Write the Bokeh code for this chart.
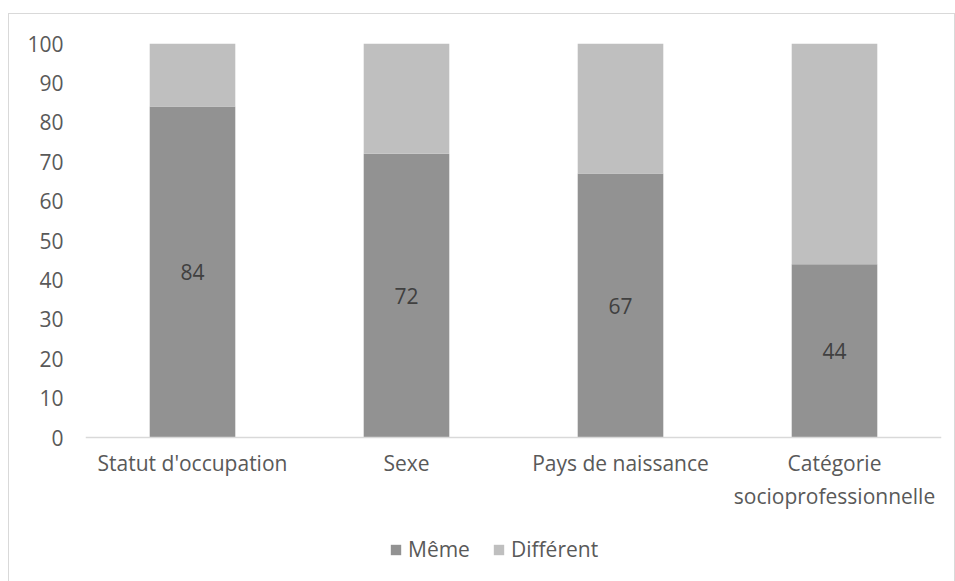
from bokeh.plotting import figure
from bokeh.models import ColumnDataSource, FixedTicker, Legend, LegendItem, LabelSet
from bokeh.core.properties import value
from bokeh.embed import file_html
from bokeh.resources import INLINE

categories = ["Statut d'occupation", "Sexe", "Pays de naissance", "Catégorie\nsocioprofessionnelle"]
meme = [84, 72, 67, 44]
different = [16, 28, 33, 56]
series_names = ["Même", "Différent"]
y_ticks = [0, 10, 20, 30, 40, 50, 60, 70, 80, 90, 100]

FONT = "Open Sans"
TXT = "#595959"
FS = "21px"

src = ColumnDataSource(dict(
    cat=categories,
    meme=meme,
    different=different,
    label_y=[m / 2 for m in meme],
    label=[str(m) for m in meme],
))

# frame extends below zero so the category labels and legend fit inside it
FRAME_H = 538
PX_PER_UNIT = 3.94
p = figure(x_range=categories, y_range=(100 - FRAME_H / PX_PER_UNIT, 100),
           frame_width=856, frame_height=FRAME_H,
           output_backend="svg", toolbar_location=None,
           min_border_left=76, min_border_right=13, min_border_top=29, min_border_bottom=0,
           styles={"border": "1px solid #d9d9d9", "margin-top": "13px", "margin-left": "8px"})
p.x_range.range_padding = 0.0

r = p.vbar_stack(["meme", "different"], x="cat", width=0.4, source=src,
                 color=["#929292", "#bfbfbf"], line_color=None)

labels = LabelSet(x="cat", y="label_y", text="label", source=src,
                  text_align="center", text_baseline="middle",
                  text_color="#404040", text_font=value(FONT), text_font_size=FS)
p.add_layout(labels)

p.outline_line_color = None
p.xgrid.grid_line_color = None
p.ygrid.grid_line_color = None

p.yaxis.ticker = FixedTicker(ticks=y_ticks)
p.yaxis.axis_line_color = None
p.yaxis.major_tick_line_color = None
p.yaxis.minor_tick_line_color = None
p.yaxis.major_label_standoff = 16
p.yaxis.major_label_text_font = FONT
p.yaxis.major_label_text_font_size = FS
p.yaxis.major_label_text_color = TXT

p.xaxis.fixed_location = 0
p.xaxis.axis_line_color = "#d9d9d9"
p.xaxis.axis_line_width = 1.5
p.xaxis.major_tick_line_color = None
p.xaxis.minor_tick_line_color = None
p.xaxis.major_tick_out = 0
p.xaxis.major_tick_in = 0
p.xaxis.major_label_standoff = 11
p.xaxis.major_label_text_font = FONT
p.xaxis.major_label_text_font_size = FS
p.xaxis.major_label_text_color = TXT

legend = Legend(items=[LegendItem(label=series_names[0], renderers=[r[0]]),
                       LegendItem(label=series_names[1], renderers=[r[1]])],
                orientation="horizontal", location=(304, 18),
                border_line_color=None, background_fill_alpha=0,
                label_text_font=FONT, label_text_font_size=FS, label_text_color=TXT,
                glyph_width=13, glyph_height=13, spacing=22, padding=0,
                margin=0, label_standoff=6)
p.add_layout(legend, "center")

open("out.html", "w").write(file_html(p, INLINE))
